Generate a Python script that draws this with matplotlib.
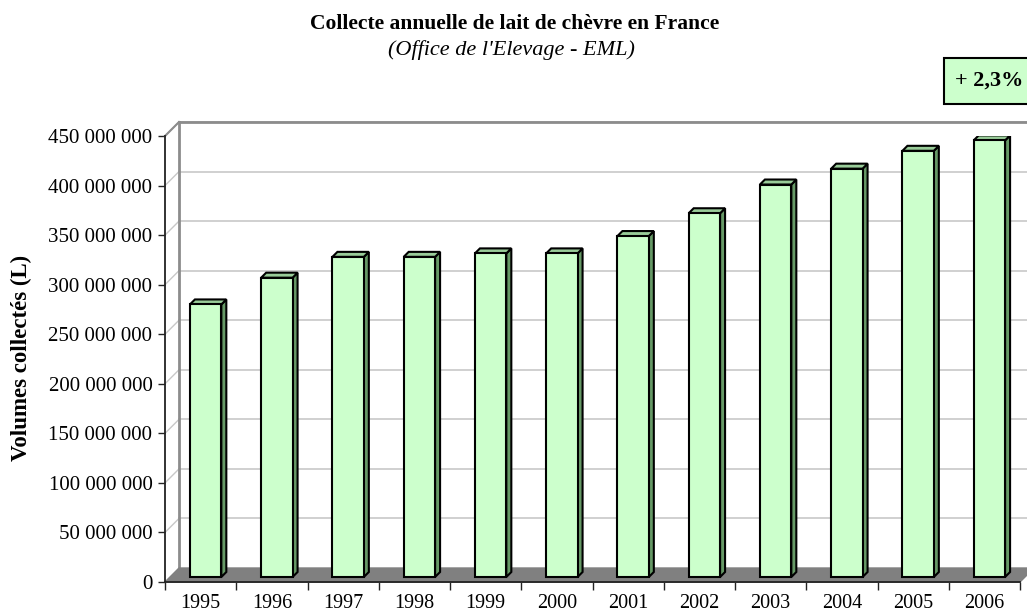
import numpy as np
import matplotlib.pyplot as plt
from matplotlib.patches import Polygon, Rectangle

plt.rcParams['font.family'] = ['Liberation Serif', 'DejaVu Serif']

# data
years = ['1995', '1996', '1997', '1998', '1999', '2000',
         '2001', '2002', '2003', '2004', '2005', '2006']
volumes = [275e6, 302e6, 323e6, 323e6, 326.5e6, 326.5e6,
           344e6, 367e6, 396e6, 412e6, 430e6, 440.5e6]
y_ticks = [0, 50e6, 100e6, 150e6, 200e6, 250e6, 300e6, 350e6, 400e6, 450e6]
growth_label = '+ 2,3%'

title = "Collecte annuelle de lait de chèvre en France"
subtitle = "(Office de l'Elevage - EML)"
ylabel = "Volumes collectés (L)"

FW, FH = 1027, 612
fig = plt.figure(figsize=(FW / 100, FH / 100), dpi=100)

# front plane of the fake 3d box, in pixels
left, right, bottom, top = 165, 1020, 582, 136
ax = fig.add_axes([left / FW, (FH - bottom) / FH, (right - left) / FW, (bottom - top) / FH])

n = len(years)
ymax = y_ticks[-1]
ax.set_xlim(-0.5, n - 0.5)
ax.set_ylim(0, ymax)

px_x = (right - left) / n          # pixels per category
px_y = (bottom - top) / ymax       # pixels per litre
dx, dy = 14 / px_x, 14 / px_y      # depth of the box
fx, fy = 5 / px_x, 5 / px_y        # bar front face depth
bx, by = 5 / px_x, 5 / px_y        # bar depth
bw = 31.4 / px_x

grid_col = '#c8c8c8'
wall_col = '#8c8c8c'

# back wall gridlines + diagonals on left wall
for t in y_ticks[1:]:
    ax.plot([-0.5 + dx, n + 1], [t + dy, t + dy], color=grid_col, lw=1.2, clip_on=False, zorder=1)
    ax.plot([-0.5, -0.5 + dx], [t, t + dy], color=grid_col, lw=1.0, clip_on=False, zorder=1)

# back wall edges
ax.plot([-0.5 + dx, -0.5 + dx], [dy, ymax + dy], color=wall_col, lw=2, clip_on=False, zorder=2)
ax.plot([-0.5 + dx, n + 1], [ymax + dy, ymax + dy], color=wall_col, lw=2, clip_on=False, zorder=2)
ax.plot([-0.5, -0.5 + dx], [ymax, ymax + dy], color=wall_col, lw=1.5, clip_on=False, zorder=2)

# floor
floor = Polygon([(-0.5, 0), (n - 0.5, 0), (n - 0.5 + dx, dy), (-0.5 + dx, dy)],
                closed=True, facecolor='#808080', edgecolor='#808080', lw=1,
                clip_on=False, zorder=2)
ax.add_patch(floor)

# bars
x = np.arange(n)
for xi, v in zip(x, volumes):
    xl = xi + fx - bw / 2
    xr = xi + fx + bw / 2
    b0, b1 = fy, v + fy
    side = Polygon([(xr, b0), (xr + bx, b0 + by), (xr + bx, b1 + by), (xr, b1)],
                   closed=True, facecolor='#669966', edgecolor='black', lw=1.5,
                   joinstyle='miter', zorder=4)
    topf = Polygon([(xl, b1), (xr, b1), (xr + bx, b1 + by), (xl + bx, b1 + by)],
                   closed=True, facecolor='#99cc99', edgecolor='black', lw=1.5,
                   joinstyle='miter', zorder=4)
    ax.add_patch(side)
    ax.add_patch(topf)
ax.bar(x + fx, volumes, bottom=fy, width=bw, color='#ccffcc', edgecolor='black',
       linewidth=1.5, zorder=5)

# axes
for s in ['top', 'right']:
    ax.spines[s].set_visible(False)
for s in ['left', 'bottom']:
    ax.spines[s].set_color('#222222')
    ax.spines[s].set_linewidth(1.3)
    ax.spines[s].set_zorder(6)

ax.set_yticks(y_ticks)
ax.set_yticklabels([f"{int(t):,}".replace(',', ' ') for t in y_ticks])
ax.tick_params(axis='y', direction='out', length=5, width=1, pad=4, labelsize=15, color='#222222')

ax.set_xticks(x)
ax.set_xticklabels(years)
ax.set_xticks(np.arange(n + 1) - 0.5, minor=True)
ax.tick_params(axis='x', which='major', length=0, pad=9, labelsize=14.5)
ax.tick_params(axis='x', which='minor', direction='out', length=6, width=1, color='#222222')

ax.patch.set_alpha(0)

# texts
fig.text(515 / FW, 1 - 24 / FH, title, ha='center', va='center', fontsize=15.5, fontweight='bold')
fig.text(511 / FW, 1 - 50 / FH, subtitle, ha='center', va='center', fontsize=16, style='italic')
fig.text(21 / FW, 1 - 358 / FH, ylabel, ha='center', va='center', rotation=90,
         fontsize=16.5, fontweight='bold')

fig.patches.append(Rectangle((944 / FW, 1 - 104 / FH), 100 / FW, 46 / FH,
                             transform=fig.transFigure, facecolor='#ccffcc',
                             edgecolor='black', lw=1.5))
fig.text(989 / FW, 1 - 81 / FH, growth_label, ha='center', va='center',
         fontsize=16, fontweight='bold')

fig.savefig('out.png', dpi=100)
